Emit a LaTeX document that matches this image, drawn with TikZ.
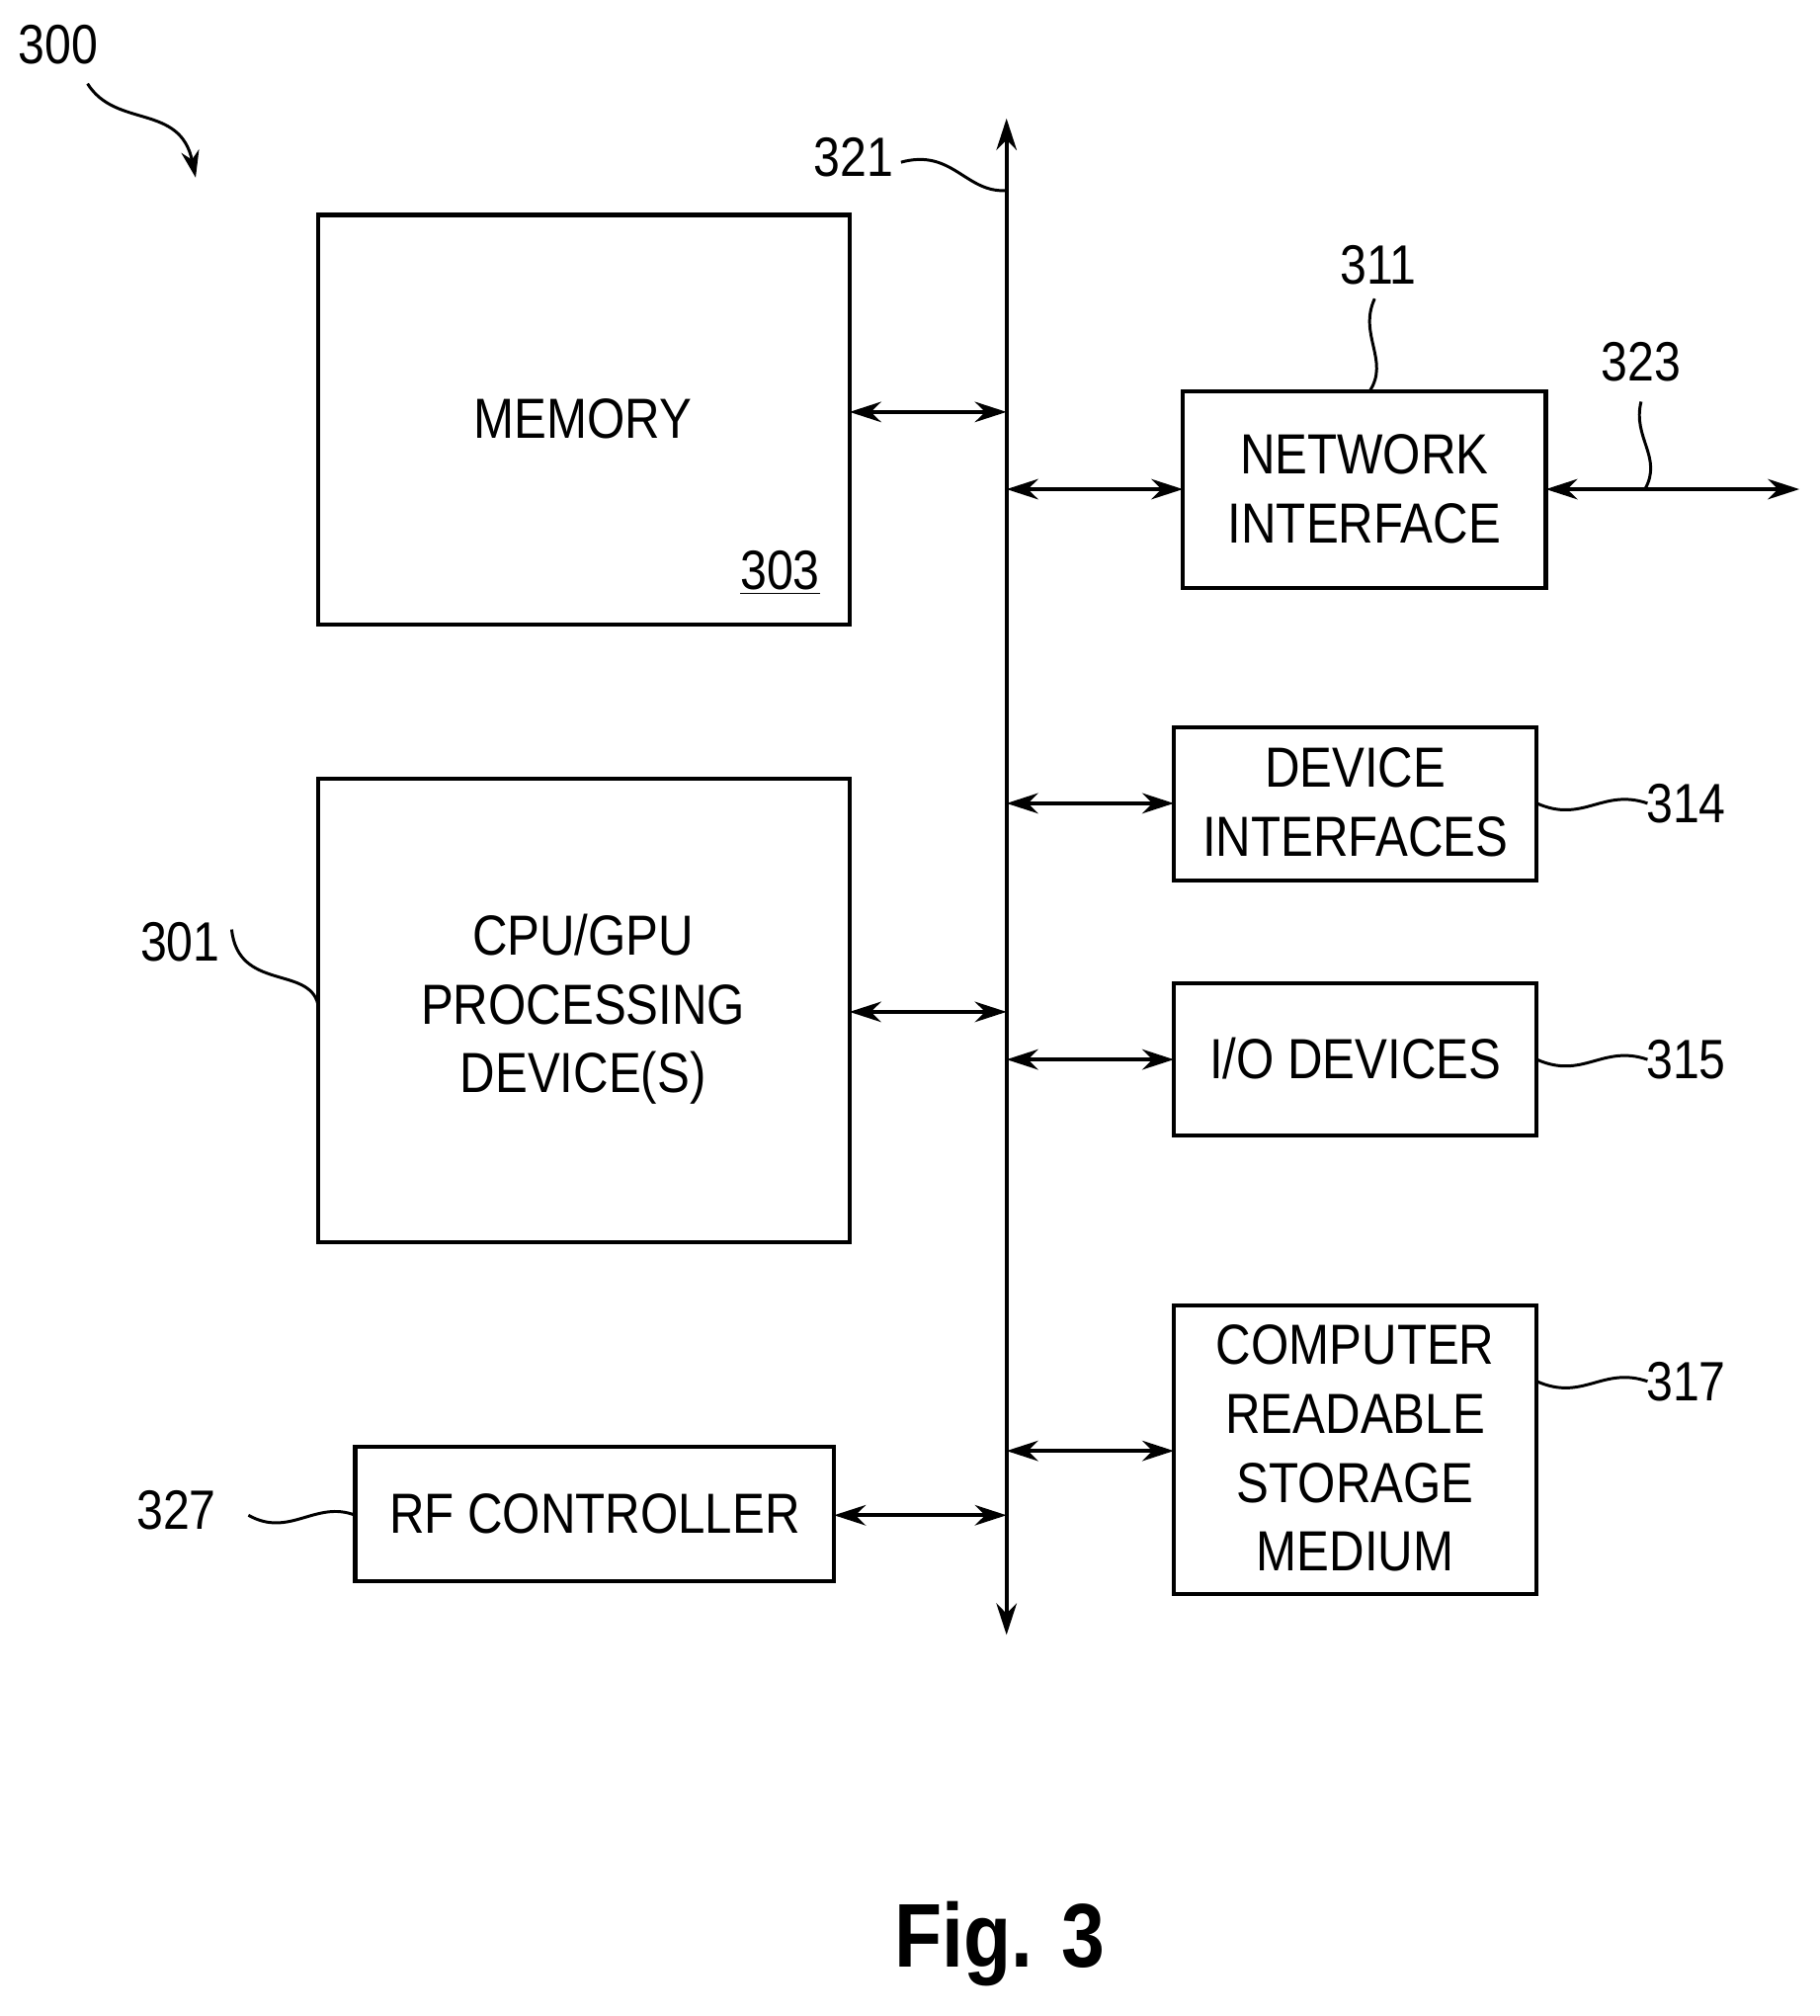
\documentclass[tikz,border=0pt]{standalone}
\usepackage{fontspec}
\setmainfont{Liberation Sans}[FakeStretch=0.86]
\usetikzlibrary{arrows.meta}
\begin{document}
\begin{tikzpicture}[x=0.02cm,y=-0.02cm,line width=1.7pt,
  box/.style={draw,line width=1.8pt},
  txt/.style={font=\fontsize{25}{30.5}\selectfont,align=center,inner sep=0},
  lbl/.style={font=\fontsize{24.5}{30}\selectfont,inner sep=0},
  dbl/.style={{Stealth[length=14pt,width=9pt]}-{Stealth[length=14pt,width=9pt]}},
  lead/.style={line width=1.3pt}]
\useasboundingbox (0,0) rectangle (1414,1566);
% boxes
\draw[box] (247,167) rectangle (660,485);
\node[txt] (memt) at (453,325) {MEMORY};
\node[lbl] (m303) at (606,445) {\underline{303}};
\draw[box] (247,605) rectangle (660,965);
\node[txt] (cpu) at (453,784) {CPU/GPU\\PROCESSING\\DEVICE(S)};
\draw[box] (276,1124) rectangle (648,1228);
\node[txt] (rf) at (462,1176) {RF CONTROLLER};
\draw[box] (919,304) rectangle (1201,457);
\node[txt] (net) at (1060,380) {NETWORK\\INTERFACE};
\draw[box] (912,565) rectangle (1194,684);
\node[txt] (dev) at (1053,623) {DEVICE\\INTERFACES};
\draw[box] (912,764) rectangle (1194,882);
\node[txt] (io) at (1053,822) {I/O DEVICES};
\draw[box] (912,1014) rectangle (1194,1238);
\node[txt] (crs) at (1053,1125) {COMPUTER\\READABLE\\STORAGE\\MEDIUM};
% bus
\coordinate (bt) at (782,92); \coordinate (bb) at (782,1270);
\draw[dbl] (bt) -- (bb);
% connectors
\draw[dbl] (660,320) -- (782,320);
\draw[dbl] (660,786) -- (782,786);
\draw[dbl] (648,1177) -- (782,1177);
\draw[dbl] (782,380) -- (919,380);
\draw[dbl] (1201,380) -- (1398,380);
\draw[dbl] (782,624) -- (912,624);
\draw[dbl] (782,823) -- (912,823);
\draw[dbl] (782,1127) -- (912,1127);
% labels
\node[lbl] (l300) at (45,35) {300};
\draw[lead,-{Stealth[length=12pt,width=8pt]}] (68,65) .. controls (90,100) and (140,80) .. (152,138);
\node[lbl] (l321) at (663,122) {321};
\draw[lead] (700,126) .. controls (740,115) and (750,150) .. (782,148);
\node[lbl] (l311) at (1071,206) {311};
\draw[lead] (1068,232) .. controls (1055,260) and (1080,280) .. (1064,304);
\node[lbl] (l323) at (1275,281) {323};
\draw[lead] (1275,312) .. controls (1268,340) and (1292,355) .. (1278,380);
\node[lbl] (l314) at (1310,624) {314};
\draw[lead] (1194,624) .. controls (1230,640) and (1245,612) .. (1280,624);
\node[lbl] (l315) at (1310,823) {315};
\draw[lead] (1194,823) .. controls (1230,839) and (1245,811) .. (1280,823);
\node[lbl] (l317) at (1310,1073) {317};
\draw[lead] (1194,1073) .. controls (1230,1089) and (1245,1061) .. (1280,1073);
\node[lbl] (l301) at (140,732) {301};
\draw[lead] (180,722) .. controls (185,770) and (240,750) .. (247,780);
\node[lbl] (l327) at (137,1173) {327};
\draw[lead] (193,1177) .. controls (225,1195) and (245,1165) .. (276,1177);
\node[font=\fontsize{40}{44}\selectfont\bfseries,inner sep=0] (fig) at (777,1510) {Fig. 3};
\end{tikzpicture}
\end{document}
